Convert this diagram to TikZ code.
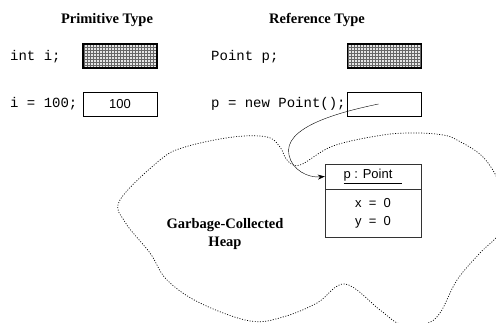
\documentclass[tikz,border=0pt]{standalone}
\usepackage{fontspec}
\setmainfont{Liberation Serif}
\setsansfont{Liberation Sans}
\setmonofont{Liberation Mono}
\usetikzlibrary{positioning,arrows.meta,patterns}

\tikzset{
  header/.style={font=\bfseries\fontsize{14.5}{18}\selectfont},
  code/.style={font=\ttfamily\fontsize{14}{16}\selectfont, anchor=west, inner sep=0pt},
  slot/.style={draw, rectangle, minimum width=74pt, minimum height=24pt, inner sep=0pt,
    font=\sffamily\fontsize{13}{14}\selectfont},
  unset/.style={slot, line width=1.2pt, preaction={fill=gray!20}, pattern=grid,
    pattern color=gray!80!black},
  objbox/.style={draw=black!80, rectangle, minimum width=96pt, inner sep=0pt,
    font=\sffamily\fontsize{13}{18}\selectfont},
  heap/.style={dash pattern=on 1pt off 1.6pt, line width=0.7pt},
}

\begin{document}
\begin{tikzpicture}[x=1pt, y=-1pt]
  \useasboundingbox (0,0) rectangle (496,323);

  \node[header] (primhdr) at (107,20) {Primitive Type};
  \node[header] (refhdr) at (317,20) {Reference Type};

  \node[code] (decli) at (10,57) {int i;};
  \node[unset] (slotdecli) at (120,56) {};
  \node[code] (seti) at (10,104) {i = 100;};
  \node[slot] (slotseti) at (120,104) {100};

  \node[code] (declp) at (211,57) {Point p;};
  \node[unset] (slotdeclp) at (384.5,56) {};
  \node[code] (newp) at (211,104) {p = new Point();};
  \node[slot] (slotnewp) at (384.5,104) {};

  \draw[heap] plot[smooth cycle, tension=0.6] coordinates {
    (120,200) (160,160) (185,147) (233,137) (267,137) (280,147) (287,160)
    (300,165) (333,146) (383,135) (417,133) (443,135) (457,140) (483,157)
    (500,185) (503,215) (498,235) (480,253) (457,280) (440,313) (425,324)
    (400,324) (380,310) (345,284) (317,303) (283,317) (250,321) (200,303)
    (167,280) (150,253) (125,222)};

  \node[header, align=center] (heaplbl) at (225,234) {Garbage-Collected\\Heap};

  \node[objbox, minimum height=25pt] (objtitle) at (373,176.5) {\underline{p : Point\hspace{10pt}}};
  \node[objbox, minimum height=48pt, align=center, below=0pt of objtitle] (objbody) {x \ = \ 0\\y \ = \ 0};

  \coordinate (ptrstart) at ([xshift=-6pt]slotnewp.center);
  \draw[-{Stealth[length=7pt,width=5pt]}] (ptrstart) .. controls (335,113) and (283,128) .. (289,155)
    .. controls (292,170) and (308,178) .. (objtitle.west);
\end{tikzpicture}
\end{document}
